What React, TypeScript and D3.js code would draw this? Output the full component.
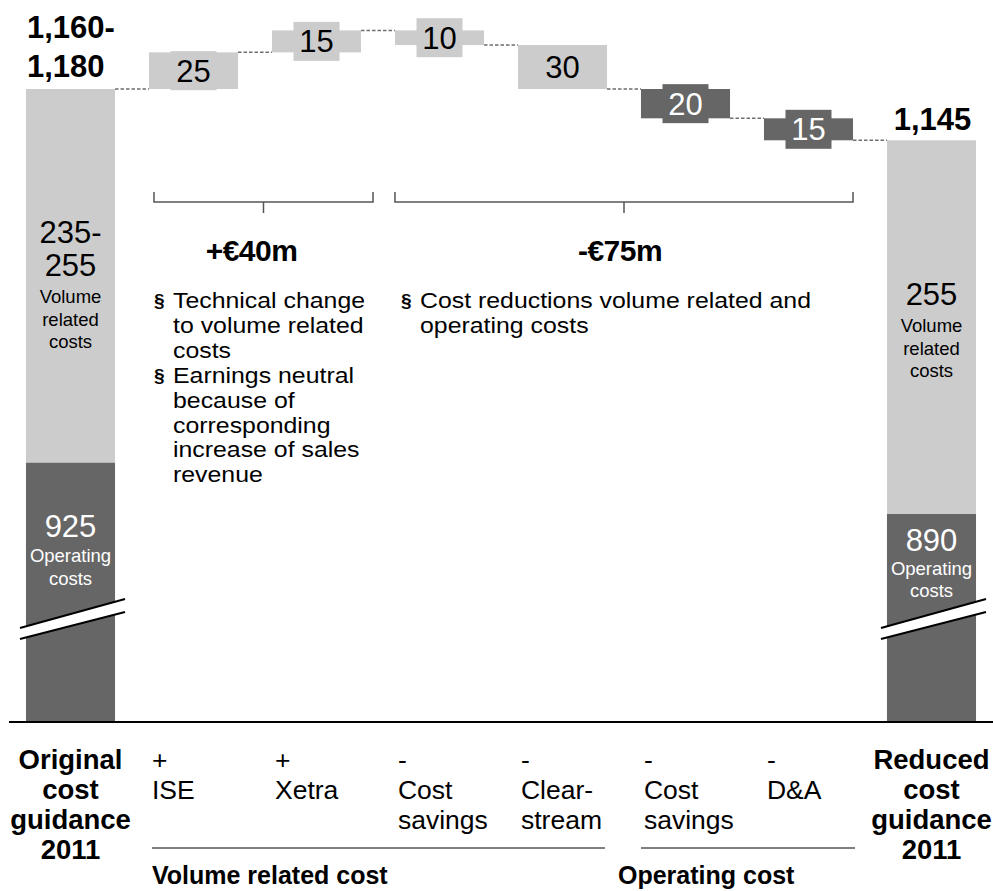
import React from "react";
import * as d3 from "d3";

// ---------- data ----------
const categories = ["Original", "ISE", "Xetra", "CostSavingsVol", "Clearstream", "CostSavingsOp", "DA", "Reduced"];
const categoryLabels: string[][] = [
  ["Original", "cost", "guidance", "2011"],
  ["+", "ISE"],
  ["+", "Xetra"],
  ["-", "Cost", "savings"],
  ["-", "Clear-", "stream"],
  ["-", "Cost", "savings"],
  ["-", "D&A"],
  ["Reduced", "cost", "guidance", "2011"],
];
const startTotal = 1180;
const startVolume = 255;
const endTotal = 1145;
const endVolume = 255;
const deltas = [25, 15, -10, -30, -20, -15];
const deltaGroups = ["volume", "volume", "volume", "volume", "operating", "operating"];
const startTotalLabel = ["1,160-", "1,180"];
const startVolumeLabel = ["235-", "255"];
const startOperatingLabel = "925";
const endTotalLabel = "1,145";
const endVolumeLabel = ["255"];
const endOperatingLabel = "890";
const volumeCaption = ["Volume", "related", "costs"];
const operatingCaption = ["Operating", "costs"];
const bracketLabels = ["+€40m", "-€75m"];
const bulletsIncrease = [
  ["Technical change", "to volume related", "costs"],
  ["Earnings neutral", "because of", "corresponding", "increase of sales", "revenue"],
];
const bulletsDecrease = [["Cost reductions volume related and", "operating costs"]];
const groupLabels = ["Volume related cost", "Operating cost"];

// ---------- styling ----------
const W = 993;
const H = 891;
const LIGHT = "#cccccc";
const DARK = "#666666";
const FONT = "'Liberation Sans', Arial, Helvetica, sans-serif";
const BASE_Y = 722;
const BULLET_LH = 24.9;
const BULLET_FS = 22;
const BULLET_SX = 1.13;

export default function App() {
  const x = d3
    .scaleBand<string>()
    .domain(categories)
    .range([9, W])
    .paddingInner(0.276)
    .paddingOuter(0.138);
  const bw = x.bandwidth();
  const y = d3.scaleLinear().domain([1180, 890]).range([89, 514]);

  // running totals
  const steps: { cat: string; from: number; to: number; group: string; value: number }[] = [];
  let run = startTotal;
  deltas.forEach((d, i) => {
    steps.push({ cat: categories[i + 1], from: run, to: run + d, group: deltaGroups[i], value: Math.abs(d) });
    run += d;
  });

  const x0 = x(categories[0])!;
  const xN = x(categories[7])!;
  const startSplit = startTotal - startVolume;
  const endSplit = endTotal - endVolume;

  // connectors
  const levels = [startTotal, ...steps.map((s) => s.to)];
  const connectors = levels.map((lv, i) => ({
    x1: x(categories[i])! + bw,
    x2: x(categories[i + 1])!,
    y: y(lv),
  }));

  const brk = (bx: number) => {
    const xa = bx - 6;
    const xb = bx + bw + 10;
    return (
      <g>
        <polygon points={`${xa},628 ${xb},599 ${xb},612 ${xa},639`} fill="#ffffff" />
        <line x1={xa} y1={628} x2={xb} y2={599} stroke="#000" strokeWidth={2} />
        <line x1={xa} y1={639} x2={xb} y2={612} stroke="#000" strokeWidth={2} />
      </g>
    );
  };

  const bracket = (xa: number, xb: number, cx: number) => (
    <g stroke="#555" strokeWidth={1.5} fill="none">
      <polyline points={`${xa},192 ${xa},202 ${xb},202 ${xb},192`} />
      <line x1={cx} y1={202} x2={cx} y2={213} />
    </g>
  );

  const bx1a = x(categories[1])! + 5;
  const bx1b = x(categories[2])! + bw + 12;
  const bx2a = x(categories[3])!;
  const bx2b = x(categories[6])! + bw;

  const bulletBlock = (groups: string[][], sx: number, startY: number, keyp: string) => {
    const out: JSX.Element[] = [];
    let ln = 0;
    groups.forEach((g, gi) => {
      out.push(
        <text key={`${keyp}b${gi}`} x={sx} y={startY + ln * BULLET_LH - 1} fontSize={19} fontWeight="bold">
          §
        </text>
      );
      g.forEach((t, ti) => {
        const yy = startY + ln * BULLET_LH;
        out.push(
          <text
            key={`${keyp}t${gi}-${ti}`}
            transform={`translate(${sx + 19} ${yy}) scale(${BULLET_SX} 1)`}
            fontSize={BULLET_FS}
          >
            {t}
          </text>
        );
        ln++;
      });
    });
    return out;
  };

  return (
    <svg
      width={W}
      height={H}
      style={{ position: "absolute", left: 0, top: 0, background: "#fff" }}
      fontFamily={FONT}
    >
      {/* start bar */}
      <rect x={x0} y={y(startTotal)} width={bw} height={y(startSplit) - y(startTotal)} fill={LIGHT} />
      <rect x={x0} y={y(startSplit)} width={bw} height={BASE_Y - y(startSplit)} fill={DARK} />
      {/* end bar */}
      <rect x={xN} y={y(endTotal)} width={bw} height={y(endSplit) - y(endTotal)} fill={LIGHT} />
      <rect x={xN} y={y(endSplit)} width={bw} height={BASE_Y - y(endSplit)} fill={DARK} />

      {brk(x0)}
      {brk(xN)}

      {/* connectors */}
      {connectors.map((c, i) => (
        <line key={i} x1={c.x1} x2={c.x2} y1={c.y} y2={c.y} stroke="#6e6e6e" strokeWidth={1.5} strokeDasharray="3.5 2" />
      ))}

      {/* floating bars */}
      {steps.map((s, i) => {
        const bx = x(s.cat)!;
        const top = y(Math.max(s.from, s.to));
        const bot = y(Math.min(s.from, s.to));
        const mid = (top + bot) / 2;
        const fill = s.group === "volume" ? LIGHT : DARK;
        return (
          <g key={i}>
            <rect x={bx} y={top} width={bw} height={bot - top} fill={fill} />
            <rect x={bx + bw / 2 - 23} y={mid - 19.5} width={46} height={39} fill={fill} />
            <text
              x={bx + bw / 2}
              y={mid + 11}
              textAnchor="middle"
              fontSize={31}
              fill={s.group === "volume" ? "#000" : "#fff"}
            >
              {s.value}
            </text>
          </g>
        );
      })}

      {/* total labels */}
      <text x={x0 + 1} y={38} fontSize={31} fontWeight="bold">
        {startTotalLabel[0]}
      </text>
      <text x={x0 + 1} y={77} fontSize={31} fontWeight="bold">
        {startTotalLabel[1]}
      </text>
      <text x={xN + bw / 2 + 1} y={130} fontSize={31} fontWeight="bold" textAnchor="middle">
        {endTotalLabel}
      </text>

      {/* inside labels */}
      <g textAnchor="middle" fill="#000">
        <text x={x0 + bw / 2} y={243} fontSize={31}>{startVolumeLabel[0]}</text>
        <text x={x0 + bw / 2} y={276} fontSize={31}>{startVolumeLabel[1]}</text>
        {volumeCaption.map((t, i) => (
          <text key={i} x={x0 + bw / 2} y={303 + i * 22.5} fontSize={18.5}>{t}</text>
        ))}
        <text x={xN + bw / 2} y={305} fontSize={31}>{endVolumeLabel[0]}</text>
        {volumeCaption.map((t, i) => (
          <text key={"e" + i} x={xN + bw / 2} y={332 + i * 22.5} fontSize={18.5}>{t}</text>
        ))}
      </g>
      <g textAnchor="middle" fill="#fff">
        <text x={x0 + bw / 2} y={537} fontSize={31}>{startOperatingLabel}</text>
        {operatingCaption.map((t, i) => (
          <text key={i} x={x0 + bw / 2} y={562 + i * 23} fontSize={18.5}>{t}</text>
        ))}
        <text x={xN + bw / 2} y={551} fontSize={31}>{endOperatingLabel}</text>
        {operatingCaption.map((t, i) => (
          <text key={"e" + i} x={xN + bw / 2} y={575 + i * 22} fontSize={18.5}>{t}</text>
        ))}
      </g>

      {/* brackets */}
      {bracket(bx1a, bx1b, (bx1a + bx1b) / 2)}
      {bracket(bx2a, bx2b, (bx2a + bx2b) / 2)}
      <text x={(bx1a + bx1b) / 2 - 12} y={261} fontSize={30} fontWeight="bold" textAnchor="middle" letterSpacing={-0.5}>
        {bracketLabels[0]}
      </text>
      <text x={(bx2a + bx2b) / 2 - 4} y={261} fontSize={30} fontWeight="bold" textAnchor="middle" letterSpacing={-0.5}>
        {bracketLabels[1]}
      </text>

      {/* bullets */}
      {bulletBlock(bulletsIncrease, 154, 308, "inc")}
      {bulletBlock(bulletsDecrease, 401, 308, "dec")}

      {/* baseline */}
      <line x1={9} x2={W} y1={BASE_Y} y2={BASE_Y} stroke="#000" strokeWidth={2} />

      {/* category labels */}
      {categoryLabels.map((lines, i) => {
        const cat = categories[i];
        const isTotal = i === 0 || i === categories.length - 1;
        const bx = x(cat)!;
        return (
          <g key={cat}>
            {lines.map((t, j) => (
              <text
                key={j}
                x={isTotal ? bx + bw / 2 : bx + 3}
                y={769 + j * 30}
                fontSize={isTotal ? 27.5 : 26.5}
                fontWeight={isTotal ? "bold" : "normal"}
                textAnchor={isTotal ? "middle" : "start"}
              >
                {t}
              </text>
            ))}
          </g>
        );
      })}

      {/* group underlines and labels */}
      <line x1={x(categories[1])! + 3} x2={x(categories[4])! + bw - 2} y1={848} y2={848} stroke="#000" strokeWidth={1} />
      <line x1={x(categories[5])!} x2={x(categories[6])! + bw + 2} y1={848} y2={848} stroke="#000" strokeWidth={1} />
      <text x={x(categories[1])! + 3} y={884} fontSize={25} fontWeight="bold">
        {groupLabels[0]}
      </text>
      <text x={x(categories[5])! - 23} y={884} fontSize={25} fontWeight="bold">
        {groupLabels[1]}
      </text>
    </svg>
  );
}
